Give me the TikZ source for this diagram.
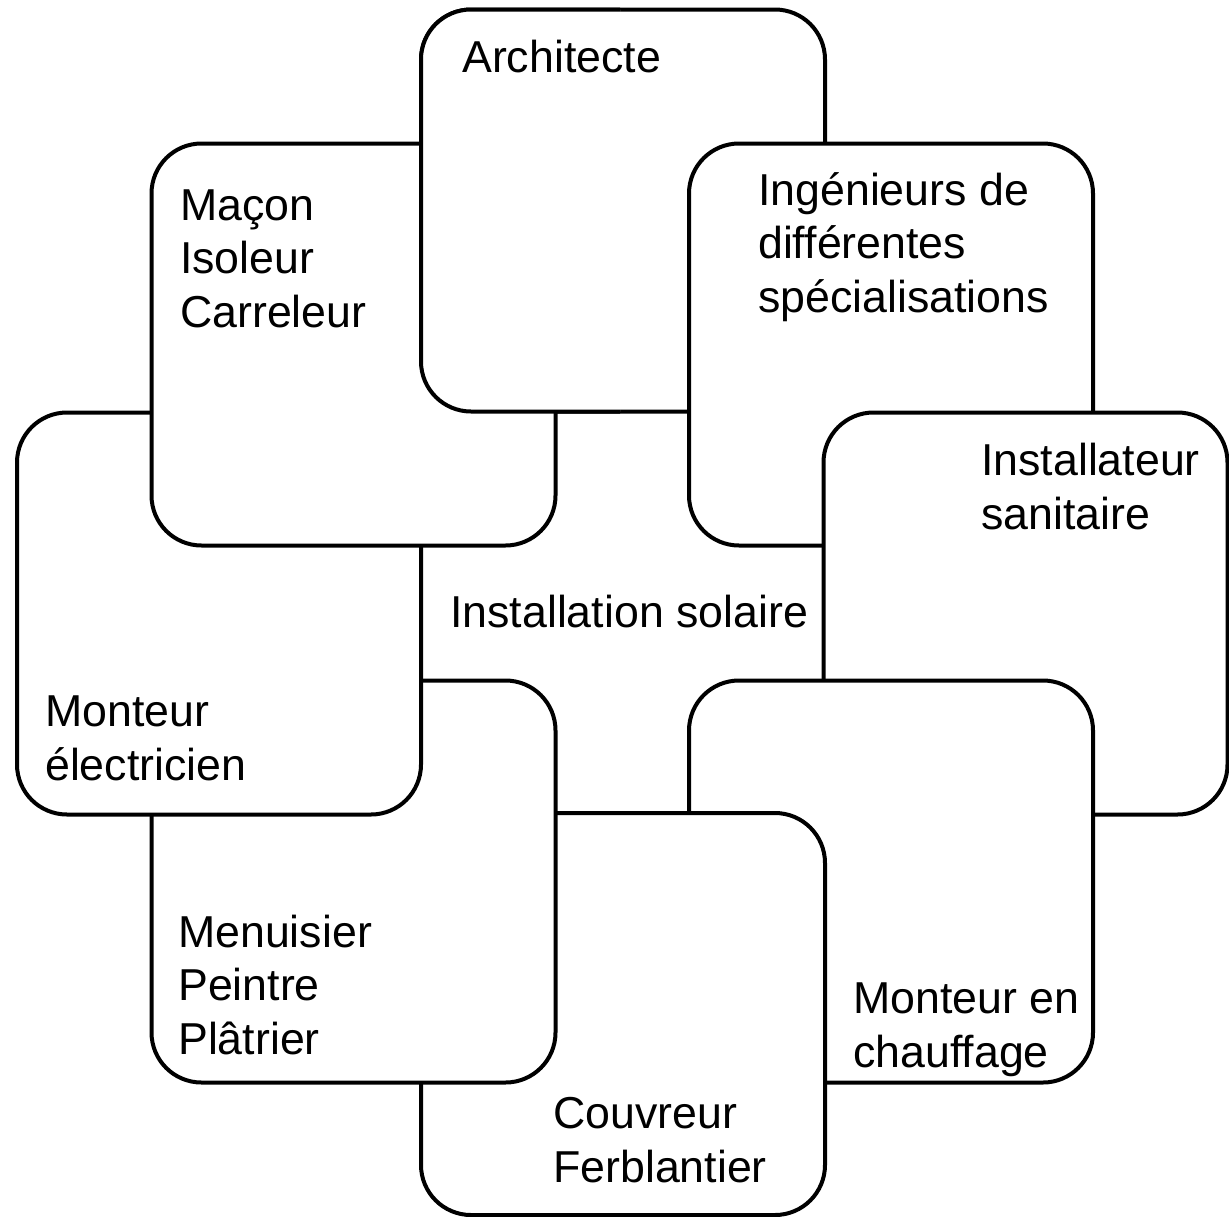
\documentclass[tikz,border=0pt]{standalone}
\usepackage{fontspec}
\setmainfont{Liberation Sans}
\usetikzlibrary{positioning}
\tikzset{
  trade/.style={draw, fill=white, rounded corners=50pt, line width=4pt,
    minimum width=404pt, minimum height=402pt, inner sep=0pt, outer sep=0pt},
  tag/.style={anchor=base west, inner sep=0pt, align=left,
    font=\fontsize{44.7}{53.5}\selectfont}
}
\begin{document}
\begin{tikzpicture}[x=1pt, y=-1pt]
    \useasboundingbox (0,0) rectangle (1229,1216);
    % boxes, bottom to top
    \node[trade] (arch) at (623,210.5) {};
    \node[trade] (ing) at (891,344.5) {};
    \node[trade] (inst) at (1025.5,613.5) {};
    \node[trade] (chauf) at (891,881.5) {};
    \node[trade] (couv) at (623,1014) {};
    \node[trade] (menu) at (353.5,881.5) {};
    \node[trade] (mont) at (219,613.5) {};
    \node[trade] (macon) at (353.5,344.5) {};
    % architecte lies over macon
    \begin{scope}
        \clip (400,0) rectangle (620,430);
        \draw[trade] (arch.south west) rectangle (arch.north east);
    \end{scope}

    % base = last line
    \node[tag] (tarch) at (462,72) {Architecte};
    \node[tag] (tmacon) at (180,327) {Maçon\\Isoleur\\Carreleur};
    \node[tag] (ting) at (758,312) {Ingénieurs de\\différentes\\spécialisations};
    \node[tag] (tinst) at (981,529) {Installateur\\sanitaire};
    \node[tag] (tsol) at (450,627) {Installation solaire};
    \node[tag] (tmont) at (45,780) {Monteur\\électricien};
    \node[tag] (tmenu) at (178,1054) {Menuisier\\Peintre\\Plâtrier};
    \node[tag] (tchauf) at (853,1067) {Monteur en\\chauffage};
    \node[tag] (tcouv) at (553,1182) {Couvreur\\Ferblantier};
\end{tikzpicture}
\end{document}
